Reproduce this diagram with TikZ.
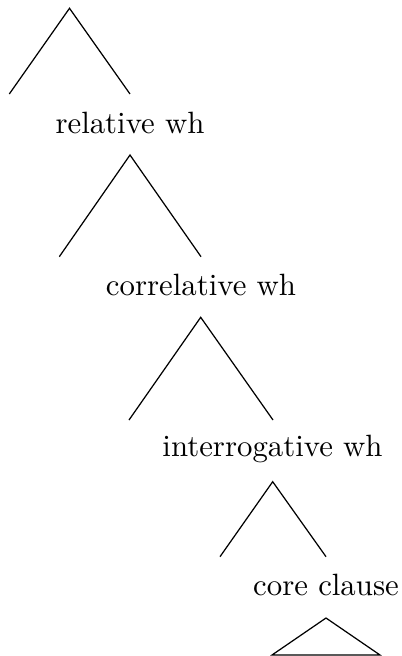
\documentclass[tikz,border=0pt]{standalone}
\begin{document}
\begin{tikzpicture}[x=0.3247pt,y=-0.3247pt,
  branch/.style={draw=black,line width=0.4pt},
  lbl/.style={anchor=base,inner sep=0pt,font=\fontsize{10}{12}\selectfont}]
\useasboundingbox (0,0) rectangle (401,656);
% tree 1
\coordinate (a1) at (69.5,8.3);
\coordinate (l1) at (9.3,94);
\coordinate (r1) at (130,94);
\draw[branch] (l1) -- (a1) -- (r1);
\node[lbl] (n1) at (130,133.3) {relative wh};
% tree 2
\coordinate (a2) at (130,155);
\coordinate (l2) at (59.3,256.7);
\coordinate (r2) at (201,256.7);
\draw[branch] (l2) -- (a2) -- (r2);
\node[lbl] (n2) at (201,295) {correlative wh};
% tree 3
\coordinate (a3) at (200.7,317.3);
\coordinate (l3) at (129,420);
\coordinate (r3) at (273,420);
\draw[branch] (l3) -- (a3) -- (r3);
\node[lbl] (n3) at (272.5,456.7) {interrogative wh};
% tree 4
\coordinate (a4) at (272.7,481.7);
\coordinate (l4) at (220,556.7);
\coordinate (r4) at (326,556.7);
\draw[branch] (l4) -- (a4) -- (r4);
\node[lbl] (n4) at (326,595) {core clause};
% triangle
\coordinate (a5) at (326,618);
\coordinate (l5) at (272,655);
\coordinate (r5) at (380,655);
\draw[branch] (a5) -- (l5) -- (r5) -- cycle;
\end{tikzpicture}
\end{document}
